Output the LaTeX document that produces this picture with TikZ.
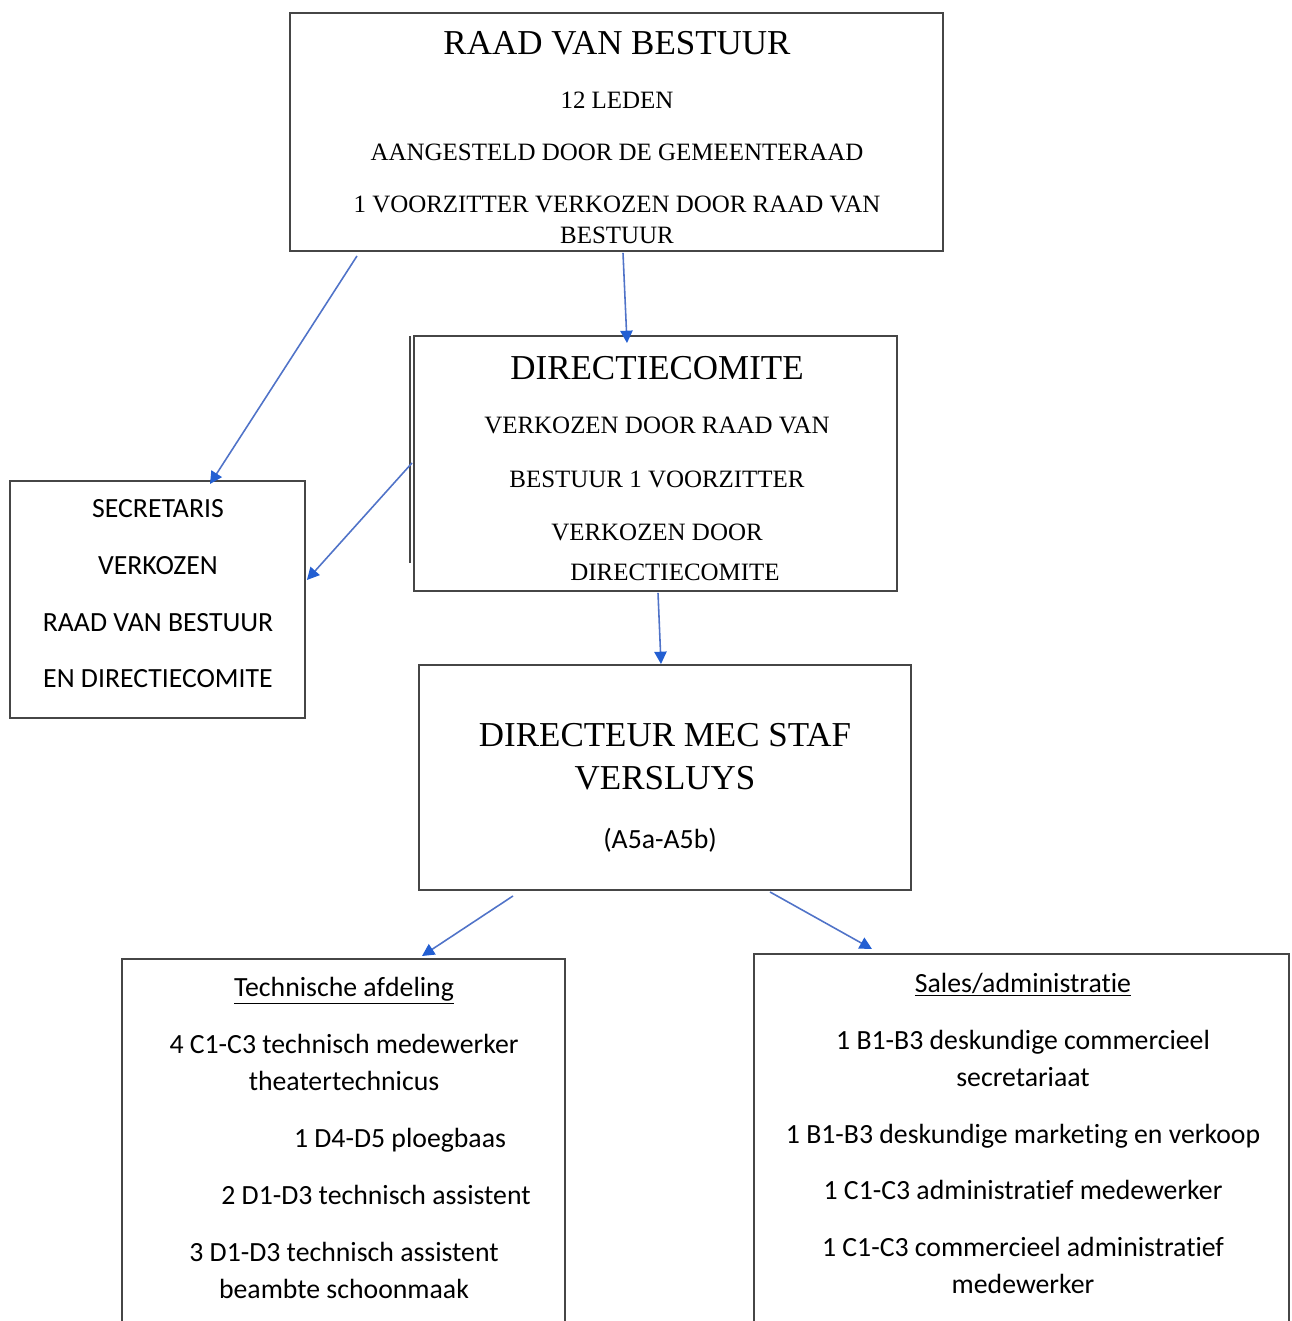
\documentclass[tikz,border=0pt]{standalone}
\usepackage{fontspec}
\setmainfont{Liberation Serif}
\newfontfamily\calib[Ligatures={NoCommon}]{Carlito}
\usetikzlibrary{arrows.meta,calc}
\definecolor{boxline}{RGB}{70,70,70}
\definecolor{arrline}{RGB}{80,115,200}
\definecolor{arrhead}{RGB}{35,95,210}
\newcommand{\nl}{\kern0pt}
\begin{document}
\begin{tikzpicture}[x=0.02cm,y=-0.02cm,
 box/.style={draw=boxline,line width=1.1pt,anchor=north west,inner sep=0pt,outer sep=0pt},
 serifbig/.style={anchor=base,inner sep=0pt,font=\fontsize{19.9pt}{22pt}\selectfont},
 serifsm/.style={anchor=base,inner sep=0pt,font=\fontsize{14.2pt}{17pt}\selectfont},
 sans/.style={anchor=base,inner sep=0pt,font=\calib\fontsize{15.8pt}{19pt}\selectfont},
 conn/.style={draw=arrline,line width=0.9pt,-{Triangle[length=7pt,width=7pt,fill=arrhead,color=arrhead]}},
]
\useasboundingbox (0,0) rectangle (1291,1321);
\clip (0,0) rectangle (1291,1321);

% boxes
\node[box,minimum width=13.06cm,minimum height=4.76cm] (rvb) at (290,13) {};
\node[box,minimum width=9.66cm,minimum height=5.10cm] (dc) at (414,336) {};
\node[box,minimum width=5.90cm,minimum height=4.74cm] (sec) at (10,481) {};
\node[box,minimum width=9.84cm,minimum height=4.50cm] (dir) at (419,665) {};
\node[box,minimum width=8.86cm,minimum height=8.0cm] (tech) at (122,959) {};
\node[box,minimum width=10.70cm,minimum height=8.0cm] (sales) at (754,954) {};

% extra edges
\draw[boxline,line width=1.6pt] ($(rvb.north west)+(0,2)$) -- ($(rvb.north west)+(0,215)$);
\draw[boxline,line width=0.8pt] ($(dc.north west)+(-4,0)$) -- ($(dc.north west)+(-4,227)$);

% RvB text
\node[serifbig] (r1) at (617,55) {RAAD VAN BESTUUR};
\node[serifsm] (r2) at (617,109) {12 LEDEN};
\node[serifsm] (r3) at (617,161) {AANGESTELD DOOR DE GEMEENTERAAD};
\node[serifsm] (r4) at (617,213) {1 VOORZITTER VERKOZEN DOOR RAAD VAN};
\node[serifsm] (r5) at (617,243) {BESTUUR};

% DC text
\node[serifbig] (d1) at (657,379) {DIRECTIECOMITE};
\node[serifsm] (d2) at (657,433) {VERKOZEN DOOR RAAD VAN};
\node[serifsm] (d3) at (657,487) {BESTUUR 1 VOORZITTER};
\node[serifsm] (d4) at (657,540) {VERKOZEN DOOR};
\node[serifsm] (d5) at (675,580) {DIRECTIECOMITE};

% Secretaris text
\node[sans] (s1) at (158,517) {SECRETARIS};
\node[sans] (s2) at (158,574) {VERKOZEN};
\node[sans] (s3) at (158,631) {RAAD VAN BESTUUR};
\node[sans] (s4) at (158,687) {EN DIRECTIECOMITE};

% Directeur text
\node[serifbig] (e1) at (665,746) {DIRECTEUR MEC STAF};
\node[serifbig] (e2) at (665,789) {VERSLUYS};
\node[sans] (e3) at (660,848) {(A5a-A5b)};

% Technische afdeling
\node[sans] (t1) at (344,996) {\underline{Technische af\nl deling}};
\node[sans] (t2) at (344,1053) {4 C1-C3 technisch medewerker};
\node[sans] (t3) at (344,1090) {theatertechnicus};
\node[sans] (t4) at (400,1147) {1 D4-D5 ploegbaas};
\node[sans] (t5) at (376,1204) {2 D1-D3 technisch assistent};
\node[sans] (t6) at (344,1261) {3 D1-D3 technisch assistent};
\node[sans] (t7) at (344,1298) {beambte schoonmaak};

% Sales/administratie
\node[sans] (a1) at (1023,992) {\underline{Sales/administrat\nl ie}};
\node[sans] (a2) at (1023,1049) {1 B1-B3 deskundige commercieel};
\node[sans] (a3) at (1023,1086) {secretariaat};
\node[sans] (a4) at (1023,1143) {1 B1-B3 deskundige marketing en verkoop};
\node[sans] (a5) at (1023,1199) {1 C1-C3 administrat\nl ief medewerker};
\node[sans] (a6) at (1023,1256) {1 C1-C3 commercieel administrat\nl ief};
\node[sans] (a7) at (1023,1293) {medewerker};

% connectors
\draw[conn] ($(rvb.south west)+(67,5)$) -- ($(sec.north west)+(200,3)$);
\draw[conn] ($(rvb.south west)+(333,2)$) -- ($(dc.north west)+(213,7)$);
\draw[conn] ($(dc.north west)+(-2,127)$) -- ($(sec.north east)+(2,99)$);
\draw[conn] ($(dc.south west)+(244,2)$) -- ($(dir.north west)+(242,-1)$);
\draw[conn] ($(dir.south west)+(94,6)$) -- ($(tech.north west)+(300,-3)$);
\draw[conn] ($(dir.south west)+(351,2)$) -- ($(sales.north west)+(118,-5)$);
\end{tikzpicture}
\end{document}
